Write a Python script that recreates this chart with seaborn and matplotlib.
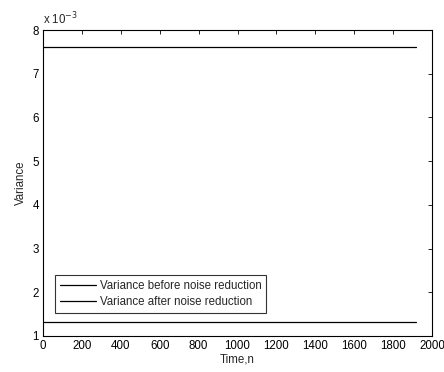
import numpy as np
import pandas as pd
import matplotlib
matplotlib.use('Agg')
from matplotlib import pyplot as plt
from matplotlib.ticker import FuncFormatter, MultipleLocator
import seaborn as sns

# time span of the two variance traces (samples)
time_n = [0, 1920]
# variance before / after noise reduction (constant over time)
var_before = [7.61e-3, 7.61e-3]
var_after = [1.31e-3, 1.31e-3]
labels = ['Variance before noise reduction', 'Variance after noise reduction']

df = pd.concat([
    pd.DataFrame({'Time,n': time_n, 'Variance': var_before, 'series': labels[0]}),
    pd.DataFrame({'Time,n': time_n, 'Variance': var_after, 'series': labels[1]}),
], ignore_index=True)

sns.set_style('white')
plt.rcParams['font.family'] = ['Liberation Sans', 'DejaVu Sans']
fs = 8.3
plt.rcParams['font.size'] = fs

fig = plt.figure(figsize=(4.44, 3.72), dpi=100)
ax = fig.add_axes([0.097, 0.097, 0.876, 0.822])
sns.lineplot(data=df, x='Time,n', y='Variance', hue='series',
             palette=['black', 'black'], linewidth=0.9, ax=ax)

ax.set_xlim(0, 2000)
ax.set_ylim(1e-3, 8e-3)
ax.xaxis.set_major_locator(MultipleLocator(200))
ax.yaxis.set_major_locator(MultipleLocator(1e-3))
ax.yaxis.set_major_formatter(FuncFormatter(lambda v, p: '%g' % round(v * 1e3, 6)))
ax.text(0.0, 1.008, r'x 10$^{-3}$', transform=ax.transAxes, fontsize=fs,
        ha='left', va='bottom')

for s in ax.spines.values():
    s.set_color('black')
    s.set_linewidth(0.8)
ax.tick_params(direction='in', length=3, width=0.6, colors='black',
               top=True, right=True, labelsize=fs, pad=3)
ax.set_xlabel('Time,n', fontsize=fs, labelpad=1)
ax.set_ylabel('Variance', fontsize=fs, labelpad=4)

leg = ax.legend(loc='lower left', bbox_to_anchor=(0.031, 0.075), fontsize=fs,
                frameon=True, fancybox=False, borderaxespad=0,
                handlelength=3.1, handletextpad=0.3, labelspacing=0.35,
                borderpad=0.45)
leg.get_frame().set_edgecolor('black')
leg.get_frame().set_linewidth(0.8)
leg.set_title(None)

fig.savefig('out.png', dpi=100)
